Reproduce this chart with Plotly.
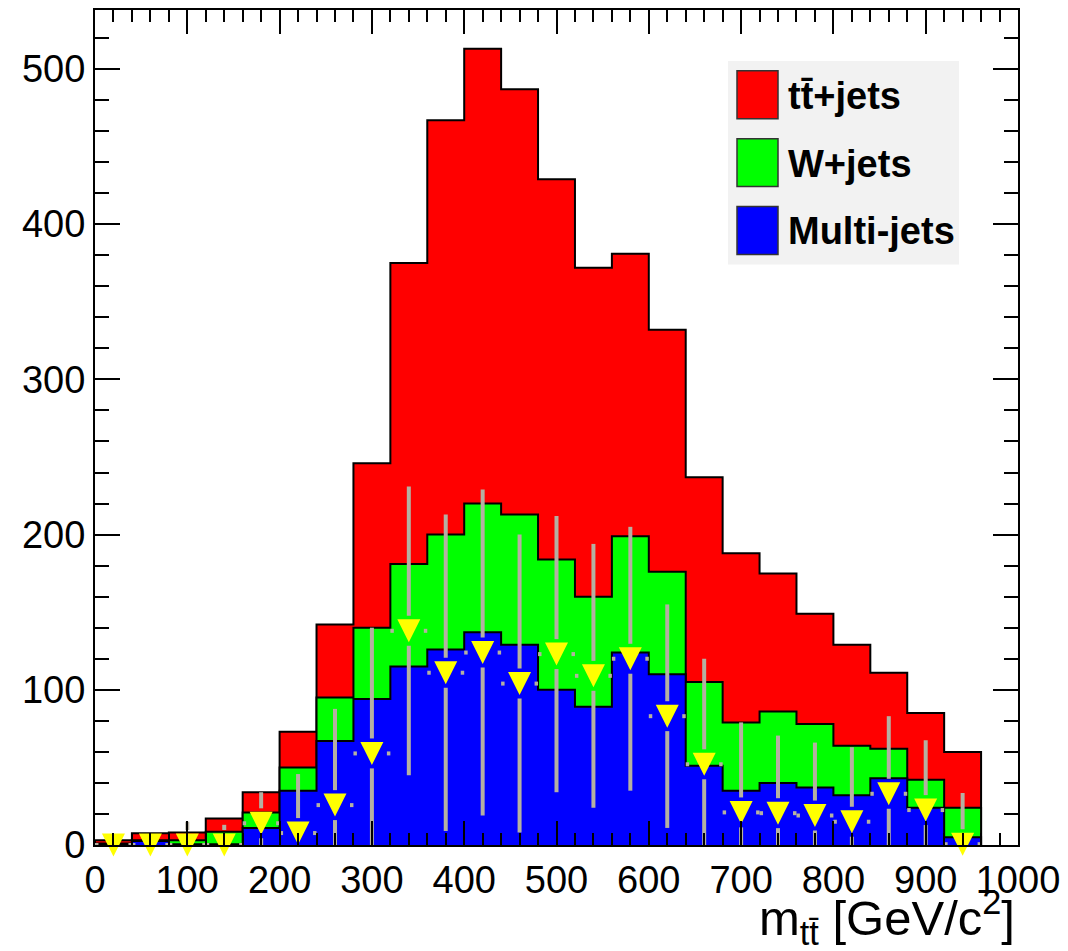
import plotly.graph_objects as go

# ---------------- data ----------------
bin_low = [0, 40, 80, 120, 160, 200, 240, 280, 320, 360, 400, 440,
           480, 520, 560, 600, 640, 680, 720, 760, 800, 840, 880, 920]
bin_width = 40

multijets = [0.5, 2.5, 0.5, 0.5, 11, 35, 67, 94, 115, 126, 137, 129,
             100, 89, 124, 110, 51, 35, 40, 37, 32, 43, 24, 5]
wjets = [0.5, 0.5, 2.5, 8, 10, 15, 28, 46, 66, 74, 83, 84,
         84, 71, 75, 66, 54, 44, 46, 41, 32, 19, 18, 19]
ttjets = [2, 4.5, 5, 8.5, 13, 23, 47, 106, 194, 267, 293, 274,
          245, 212, 182, 156, 132, 109, 89, 71, 65, 49, 43, 36]

data_y = [0, 0, 0, 0, 14, 7.7, 25.7, 59, 138, 111, 124, 104,
          123, 109, 120, 83, 52, 21, 20.5, 19, 15, 33, 22.5, 0.5]
data_err = [5, 5, 15, 13, 20, 38, 62, 81, 93, 102, 105, 96,
            89, 85, 85, 72, 68, 58, 50, 47, 48, 50, 45, 33]

x_ticks = [0, 100, 200, 300, 400, 500, 600, 700, 800, 900, 1000]
y_ticks = [0, 100, 200, 300, 400, 500]

legend_labels = ["tt\u0304+jets", "W+jets", "Multi-jets"]
colors = {"tt": "#ff0000", "w": "#00ff00", "mj": "#0000ff"}

# ---------------- layout constants ----------------
W, H = 1068, 951
ML, MR, MT, MB = 95, 50, 8, 106
PW, PH = W - ML - MR, H - MT - MB
X_RANGE = [0, 1000]
Y_RANGE = [0, 538]
FONT = "Liberation Sans, Arial, Helvetica, sans-serif"
ERR_COLOR = "#b5b0a2"

centers = [b + bin_width / 2 for b in bin_low]
edges = bin_low + [bin_low[-1] + bin_width]

cum_mj = multijets
cum_w = [a + b for a, b in zip(multijets, wjets)]
cum_tt = [a + b for a, b in zip(cum_w, ttjets)]


def step_xy(vals):
    xs = [edges[0]] + list(edges[:-1]) + [edges[-1], edges[-1]]
    ys = [0] + list(vals) + [vals[-1], 0]
    return xs, ys


fig = go.Figure()

for vals, col in [(cum_tt, colors["tt"]), (cum_w, colors["w"]), (cum_mj, colors["mj"])]:
    xs, ys = step_xy(vals)
    fig.add_trace(go.Scatter(
        x=xs, y=ys, mode="lines", line=dict(shape="hv", color="black", width=2),
        fill="tozeroy", fillcolor=col, showlegend=False, hoverinfo="skip"))

# error bars with a gap around the marker (as drawn by ROOT)
ypp = PH / (Y_RANGE[1] - Y_RANGE[0])
xpp = PW / (X_RANGE[1] - X_RANGE[0])
gap_y = 15 / ypp
gap_x = 15 / xpp
ex, ey = [], []
for xc, yv, e in zip(centers, data_y, data_err):
    if e > gap_y:
        ex += [xc, xc, None, xc, xc, None]
        ey += [yv + gap_y, yv + e, None, yv - gap_y, yv - e, None]
    half = bin_width / 2
    if half > gap_x:
        ex += [xc - half, xc - gap_x, None, xc + gap_x, xc + half, None]
        ey += [yv, yv, None, yv, yv, None]
fig.add_trace(go.Scatter(x=ex, y=ey, mode="lines",
                         line=dict(color=ERR_COLOR, width=4),
                         showlegend=False, hoverinfo="skip"))

MS = 23
fig.add_trace(go.Scatter(
    x=centers, y=data_y, mode="markers", cliponaxis=False,
    marker=dict(symbol="arrow-down", size=MS, standoff=MS / 2,
                color="#ffff00", line=dict(width=0)),
    showlegend=False, hoverinfo="skip"))

# ---------------- axes ----------------
axis_common = dict(showline=True, linecolor="black", linewidth=2, mirror="ticks",
                   ticks="inside", tickcolor="black", tickwidth=2,
                   showgrid=False, zeroline=False,
                   tickfont=dict(family=FONT, size=38, color="black"))
fig.update_xaxes(range=X_RANGE, tickvals=x_ticks, ticklen=24,
                 minor=dict(ticks="inside", dtick=20, ticklen=12, tickwidth=2,
                            tickcolor="black", showgrid=False),
                 **axis_common)
fig.update_yaxes(range=Y_RANGE, tickvals=y_ticks, ticklen=25,
                 minor=dict(ticks="inside", dtick=20, ticklen=14, tickwidth=2,
                            tickcolor="black", showgrid=False),
                 ticklabelstandoff=0,
                 **axis_common)


def fx(px):
    return (px - ML) / PW


def fy(py):
    return (H - MB - py) / PH


shapes = [dict(type="rect", xref="paper", yref="paper",
               x0=fx(728), x1=fx(959), y0=fy(263), y1=fy(59),
               fillcolor="#f2f2f2", line=dict(width=0), layer="above")]
annotations = []
legend_cols = [colors["tt"], colors["w"], colors["mj"]]
sq_tops = [69, 137, 205]
for lab, col, top in zip(legend_labels, legend_cols, sq_tops):
    shapes.append(dict(type="rect", xref="paper", yref="paper",
                       x0=fx(737), x1=fx(778), y0=fy(top + 48), y1=fy(top),
                       fillcolor=col, line=dict(color="#333333", width=1.5),
                       layer="above"))
    annotations.append(dict(xref="paper", yref="paper", x=fx(786), y=fy(top + 25),
                            xanchor="left", yanchor="middle", showarrow=False,
                            text=lab, font=dict(family=FONT, size=38, color="black",
                                                weight="bold")))

annotations.append(dict(xref="paper", yref="paper", x=fx(1017), y=fy(954),
                        xanchor="right", yanchor="bottom", showarrow=False,
                        text="m<sub>tt\u0304</sub> [GeV/c<sup>2</sup>]",
                        font=dict(family=FONT, size=49, color="black")))

fig.update_layout(width=W, height=H,
                  margin=dict(l=ML, r=MR, t=MT, b=MB),
                  plot_bgcolor="white", paper_bgcolor="white",
                  shapes=shapes, annotations=annotations, showlegend=False)

fig.write_html("out.html")
